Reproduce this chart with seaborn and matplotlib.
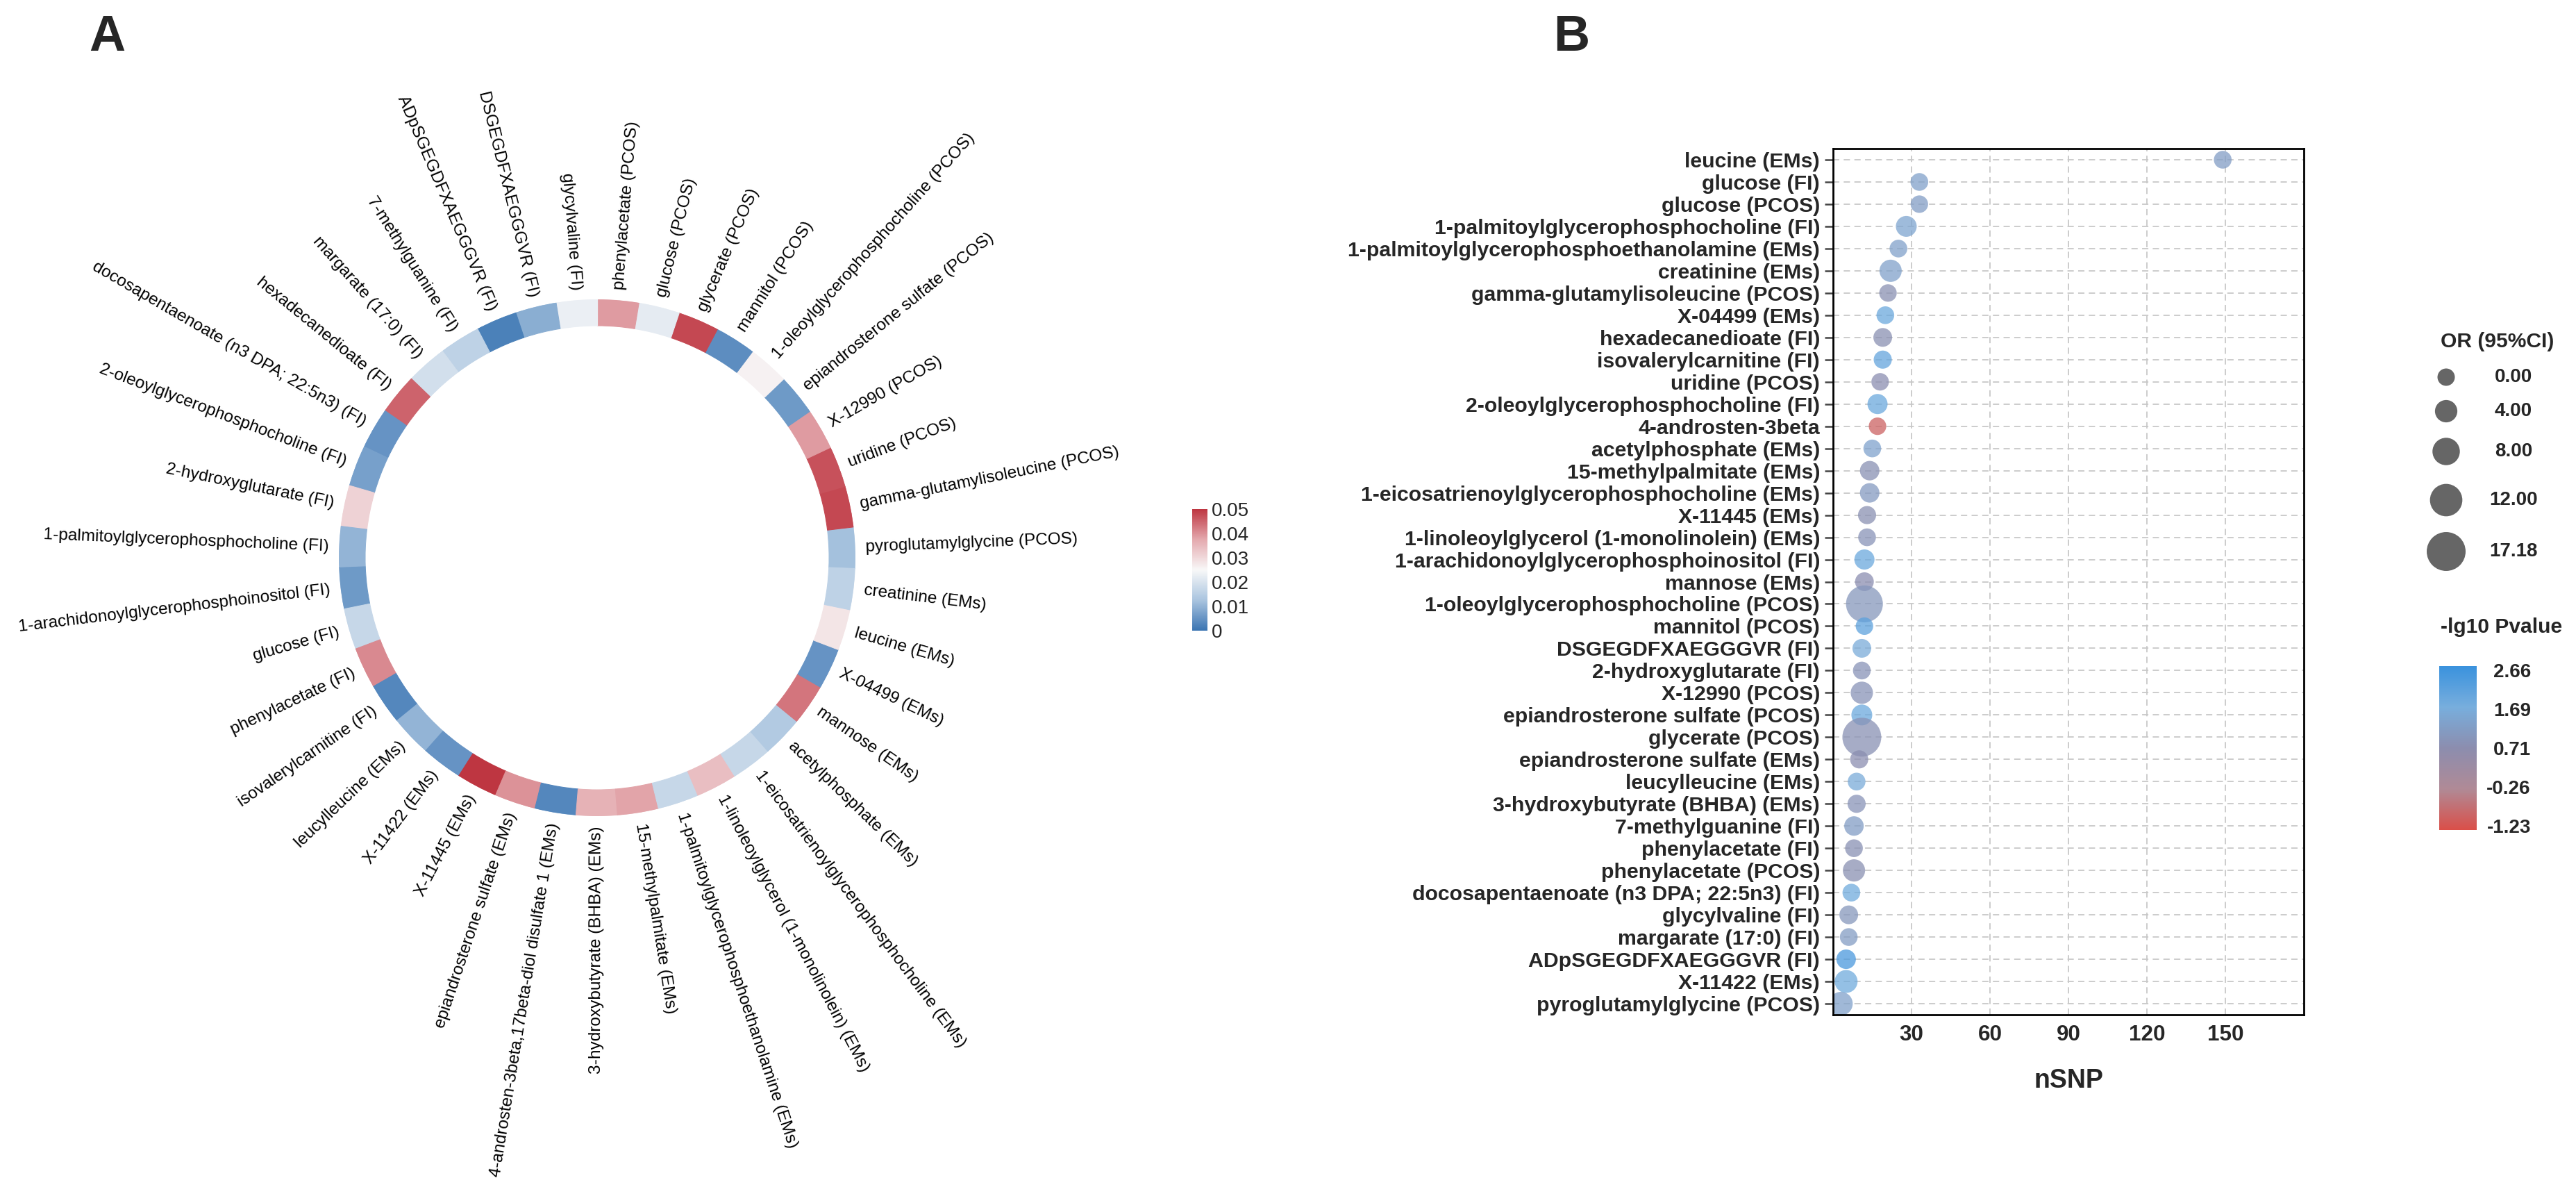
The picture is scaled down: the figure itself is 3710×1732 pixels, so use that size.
import numpy as np
import pandas as pd
import matplotlib
matplotlib.use("Agg")
from matplotlib import pyplot as plt
from matplotlib.colors import LinearSegmentedColormap, Normalize
from matplotlib.cm import ScalarMappable
import seaborn as sns

# ---- panel A: p value ring, counter-clockwise starting at east ----
ring_labels = [
    "pyroglutamylglycine (PCOS)", "gamma-glutamylisoleucine (PCOS)",
    "uridine (PCOS)", "X-12990 (PCOS)", "epiandrosterone sulfate (PCOS)",
    "1-oleoylglycerophosphocholine (PCOS)", "mannitol (PCOS)",
    "glycerate (PCOS)", "glucose (PCOS)", "phenylacetate (PCOS)",
    "glycylvaline (FI)", "DSGEGDFXAEGGGVR (FI)", "ADpSGEGDFXAEGGGVR (FI)",
    "7-methylguanine (FI)", "margarate (17:0) (FI)", "hexadecanedioate (FI)",
    "docosapentaenoate (n3 DPA; 22:5n3) (FI)",
    "2-oleoylglycerophosphocholine (FI)", "2-hydroxyglutarate (FI)",
    "1-palmitoylglycerophosphocholine (FI)",
    "1-arachidonoylglycerophosphoinositol (FI)", "glucose (FI)",
    "phenylacetate (FI)", "isovalerylcarnitine (FI)", "leucylleucine (EMs)",
    "X-11422 (EMs)", "X-11445 (EMs)", "epiandrosterone sulfate (EMs)",
    "4-androsten-3beta,17beta-diol disulfate 1 (EMs)",
    "3-hydroxybutyrate (BHBA) (EMs)", "15-methylpalmitate (EMs)",
    "1-palmitoylglycerophosphoethanolamine (EMs)",
    "1-linoleoylglycerol (1-monolinolein) (EMs)",
    "1-eicosatrienoylglycerophosphocholine (EMs)", "acetylphosphate (EMs)",
    "mannose (EMs)", "X-04499 (EMs)", "leucine (EMs)", "creatinine (EMs)",
]
ring_pvals = [
    0.012, 0.048, 0.047, 0.039, 0.006, 0.026, 0.004, 0.048, 0.022, 0.039,
    0.023, 0.009, 0.002, 0.016, 0.019, 0.045, 0.005, 0.007, 0.031, 0.010,
    0.006, 0.017, 0.041, 0.003, 0.010, 0.005, 0.050, 0.040, 0.003, 0.036,
    0.038, 0.017, 0.034, 0.017, 0.014, 0.043, 0.005, 0.028, 0.016,
]
pval_ticks = [0, 0.01, 0.02, 0.03, 0.04, 0.05]

# ---- panel B: nSNP / OR / -lg10 P per metabolite, top to bottom ----
dot_labels = [
    "leucine (EMs)", "glucose (FI)", "glucose (PCOS)",
    "1-palmitoylglycerophosphocholine (FI)",
    "1-palmitoylglycerophosphoethanolamine (EMs)", "creatinine (EMs)",
    "gamma-glutamylisoleucine (PCOS)", "X-04499 (EMs)",
    "hexadecanedioate (FI)", "isovalerylcarnitine (FI)", "uridine (PCOS)",
    "2-oleoylglycerophosphocholine (FI)", "4-androsten-3beta",
    "acetylphosphate (EMs)", "15-methylpalmitate (EMs)",
    "1-eicosatrienoylglycerophosphocholine (EMs)", "X-11445 (EMs)",
    "1-linoleoylglycerol (1-monolinolein) (EMs)",
    "1-arachidonoylglycerophosphoinositol (FI)", "mannose (EMs)",
    "1-oleoylglycerophosphocholine (PCOS)", "mannitol (PCOS)",
    "DSGEGDFXAEGGGVR (FI)", "2-hydroxyglutarate (FI)", "X-12990 (PCOS)",
    "epiandrosterone sulfate (PCOS)", "glycerate (PCOS)",
    "epiandrosterone sulfate (EMs)", "leucylleucine (EMs)",
    "3-hydroxybutyrate (BHBA) (EMs)", "7-methylguanine (FI)",
    "phenylacetate (FI)", "phenylacetate (PCOS)",
    "docosapentaenoate (n3 DPA; 22:5n3) (FI)", "glycylvaline (FI)",
    "margarate (17:0) (FI)", "ADpSGEGDFXAEGGGVR (FI)", "X-11422 (EMs)",
    "pyroglutamylglycine (PCOS)",
]
dot_nsnp = [149, 33, 33, 28, 25, 22, 21, 20, 19, 19, 18, 17, 17, 15, 14, 14,
            13, 13, 12, 12, 12, 12, 11, 11, 11, 11, 11, 10, 9, 9, 8, 8, 8, 7,
            6, 6, 5, 5, 3]
dot_or = [0.3, 0.3, 0.1, 2.8, 0.3, 3.9, 0.1, 0.3, 1.1, 0.6, 0.1, 2.2, 0.1,
          0.3, 1.7, 1.7, 0.6, 0.3, 2.2, 1.1, 15.6, 0.1, 1.1, 0.3, 3.9, 2.8,
          17.18, 0.6, 0.3, 0.6, 1.7, 0.3, 3.9, 0.3, 1.1, 0.3, 1.7, 4.4, 5.0]
dot_logp = [1.2, 1.3, 1.2, 1.4, 1.3, 1.3, 0.8, 1.9, 0.8, 2.0, 0.75, 1.9,
            -0.9, 1.35, 0.85, 1.1, 0.8, 0.9, 1.9, 0.75, 1.0, 2.1, 1.6, 0.9,
            0.9, 1.9, 0.85, 0.75, 1.6, 0.9, 1.2, 0.85, 0.8, 1.8, 1.0, 1.15,
            2.4, 1.8, 1.3]
or_legend = [0.00, 4.00, 8.00, 12.00, 17.18]
logp_ticks = [2.66, 1.69, 0.71, -0.26, -1.23]

W, H, DPI = 3710, 1732, 200


def px_box(x0, y0, x1, y1):
    """figure fraction rect from a pixel box measured from the top left"""
    return [x0 / W, 1 - y1 / H, (x1 - x0) / W, (y1 - y0) / H]


def marker_area(or_value):
    """marker area (pt^2), diameter grows linearly with OR"""
    d_px = 25 + 31 * np.asarray(or_value) / 17.18
    return (d_px * 72 / DPI) ** 2


sns.set_style("white")
plt.rcParams["font.family"] = ["Liberation Sans", "DejaVu Sans"]

fig = plt.figure(figsize=(W / DPI, H / DPI), dpi=DPI)

# ---------------- panel A ----------------
cmap_a = LinearSegmentedColormap.from_list(
    "pv", ["#3A74B2", "#A9C4DF", "#F8F8F8", "#E4A9AE", "#BE3641"])
norm_a = Normalize(0, 0.05)

ax_a = fig.add_axes(px_box(488, 431, 1232, 1175), projection="polar")
n = len(ring_labels)
step = 2 * np.pi / n
theta0 = np.deg2rad(-2.4)
centers = theta0 + step * (np.arange(n) + 0.5)
cols = cmap_a(norm_a(np.array(ring_pvals)))
ax_a.bar(centers, 0.102, width=step, bottom=0.898, color=cols,
         edgecolor=cols, linewidth=0.4)
for c, lab in zip(centers, ring_labels):
    deg = np.rad2deg(c) % 360
    if 90 < deg < 270:
        rot, ha = deg - 180, "right"
    else:
        rot, ha = (deg if deg <= 90 else deg - 360), "left"
    ax_a.text(c, 1.04, lab, rotation=rot, rotation_mode="anchor", ha=ha,
              va="center", fontsize=8.8, color="black")
ax_a.set_ylim(0, 1)
ax_a.set_axis_off()

cax_a = fig.add_axes(px_box(1717, 733, 1739, 908))
cb_a = fig.colorbar(ScalarMappable(norm=norm_a, cmap=cmap_a), cax=cax_a,
                    ticks=pval_ticks)
cb_a.outline.set_visible(False)
cb_a.ax.set_yticklabels(["0"] + [f"{t:.2f}" for t in pval_ticks[1:]])
cb_a.ax.tick_params(direction="in", color="white", length=2.2, width=0.8,
                    left=True, right=True, labelsize=10, pad=2)

fig.text(128 / W, 1 - 20 / H, "A", fontsize=26, fontweight="bold",
         ha="left", va="top")
fig.text(2237 / W, 1 - 20 / H, "B", fontsize=26, fontweight="bold",
         ha="left", va="top")

# ---------------- panel B ----------------
cmap_b = LinearSegmentedColormap.from_list(
    "lgp", [(0.0, "#DA4F49"), (0.25, "#B08A96"), (0.5, "#8C8DAE"),
            (0.75, "#78AEDD"), (1.0, "#3A92DD")])
norm_b = Normalize(-1.23, 2.66)

df = pd.DataFrame({"metabolite": dot_labels, "nSNP": dot_nsnp,
                   "OR": dot_or, "logp": dot_logp})
df["area"] = marker_area(df["OR"])

ax_b = fig.add_axes(px_box(2640, 214, 3318, 1461))
ax_b.set_axisbelow(True)
amin, amax = marker_area(0), marker_area(17.18)
sns.scatterplot(data=df, x="nSNP", y="metabolite", hue="logp",
                palette=cmap_b, hue_norm=norm_b, size="area",
                sizes=(amin, amax), size_norm=(amin, amax), alpha=0.75,
                linewidth=0, legend=False, ax=ax_b)
ax_b.set_xlim(0, 180)
ax_b.set_xticks([30, 60, 90, 120, 150])
ax_b.set_ylim(len(dot_labels) - 0.5, -0.5)
ax_b.grid(True, color="#C8C8C8", linestyle=(0, (5, 3.5)), linewidth=0.65)
ax_b.set_ylabel("")
ax_b.set_xlabel("nSNP", fontsize=13.5, fontweight="bold", labelpad=12)
ax_b.tick_params(axis="y", length=4.3, width=0.9, color="#444444", pad=2.5,
                 labelsize=10.9, left=True)
ax_b.tick_params(axis="x", length=0, pad=5, labelsize=11.3)
for lbl in ax_b.get_xticklabels() + ax_b.get_yticklabels():
    lbl.set_fontweight("bold")
for sp in ax_b.spines.values():
    sp.set_visible(True)
    sp.set_color("black")
    sp.set_linewidth(1.0)

# size legend
lax = fig.add_axes(px_box(3440, 450, 3710, 830))
lax.set_xlim(3440, 3710)
lax.set_ylim(830, 450)
lax.set_axis_off()
legend_rows = [543, 592, 650, 720, 794]
lax.text(3515, 492, "OR (95%CI)", fontsize=10.8, fontweight="bold",
         ha="left", va="center")
lax.scatter([3523] * len(or_legend), legend_rows, s=marker_area(or_legend),
            color="#666666", linewidth=0, clip_on=False)
for v, yy in zip(or_legend, legend_rows):
    lax.text(3620, yy, f"{v:.2f}", fontsize=10, fontweight="bold",
             ha="center", va="center")

# colour legend
fig.text(3515 / W, 1 - 903 / H, "-lg10 Pvalue", fontsize=10.8,
         fontweight="bold", ha="left", va="center")
cax_b = fig.add_axes(px_box(3513, 959, 3567, 1195))
cb_b = fig.colorbar(ScalarMappable(norm=Normalize(-1.33, 2.76), cmap=cmap_b),
                    cax=cax_b, ticks=logp_ticks)
cb_b.outline.set_visible(False)
cb_b.ax.set_yticklabels([f"{t:.2f}" for t in logp_ticks])
cb_b.ax.tick_params(direction="in", color="white", length=3, width=0.8,
                    left=True, right=True, labelsize=10, pad=28)
for lbl in cb_b.ax.get_yticklabels():
    lbl.set_ha("right")
    lbl.set_fontweight("bold")

fig.savefig("out.png", dpi=DPI, facecolor="white")
